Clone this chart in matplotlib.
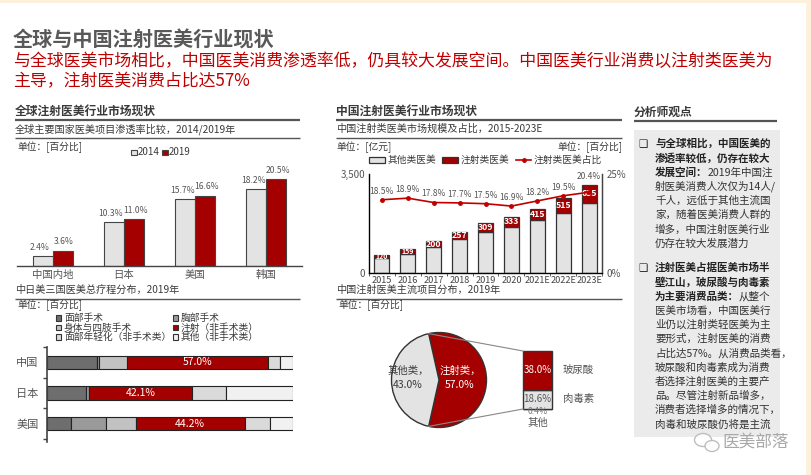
import numpy as np
import matplotlib
matplotlib.use('Agg')
import matplotlib.pyplot as plt
from matplotlib.patches import Rectangle, Ellipse

plt.rcParams['font.family'] = ['Noto Sans CJK SC', 'DejaVu Sans']

# ---------------- data ----------------
pen_cats = ['中国内地', '日本', '美国', '韩国']
pen_2014 = [2.4, 10.3, 15.7, 18.2]
pen_2019 = [3.6, 11.0, 16.6, 20.5]

dist_countries = ['中国', '日本', '美国']
dist_names = ['面部手术', '胸部手术', '身体与四肢手术', '注射（非手术类）', '面部年轻化（非手术类）', '其他（非手术类）']
face_surg = [20.5, 16.0, 9.6]
breast_surg = [0.8, 1.0, 14.5]
body_surg = [11.4, 0.0, 12.0]
injection = [57.0, 42.1, 44.2]
rejuvenation = [4.9, 13.5, 10.3]
other_nonsurg = [5.4, 27.4, 9.4]

years = ['2015', '2016', '2017', '2018', '2019', '2020', '2021E', '2022E', '2023E']
inj_market = [120, 159, 200, 257, 309, 333, 415, 515, 635]
other_market = [529, 682, 924, 1195, 1457, 1637, 1865, 2126, 2478]
inj_share = [18.5, 18.9, 17.8, 17.7, 17.5, 16.9, 18.2, 19.5, 20.4]

pie_labels = ['注射类', '其他类']
pie_values = [57.0, 43.0]
sub_labels = ['其他', '肉毒素', '玻尿酸']
sub_values = [0.4, 18.6, 38.0]

# ---------------- style ----------------
RED = '#a50000'
TRED = '#c00000'
DARK = '#3a3a3a'
LIGHT = '#e3e3e3'
CREAM = '#fdf1dc'
W, H = 811, 475

fig = plt.figure(figsize=(W / 100, H / 100), dpi=100)
fig.patch.set_facecolor('white')
ov = fig.add_axes([0, 0, 1, 1])
ov.set_xlim(0, W)
ov.set_ylim(H, 0)
ov.set_autoscale_on(False)
ov.axis('off')


def pax(l, t, r, b):
    ax = fig.add_axes([l / W, 1 - b / H, (r - l) / W, (b - t) / H])
    ax.patch.set_alpha(0)
    return ax


# borders
ov.add_patch(Rectangle((0, 0), W, 3, color=CREAM, lw=0))
ov.add_patch(Rectangle((806, 0), 5, H, color=CREAM, lw=0))

# titles
ov.text(13, 40, '全球与中国注射医美行业现状', fontsize=14.5, weight='bold', color='#595959', va='center')
ov.text(13, 61, '与全球医美市场相比，中国医美消费渗透率低，仍具较大发展空间。中国医美行业消费以注射类医美为',
        fontsize=12.2, color=TRED, va='center')
ov.text(13, 81, '主导，注射医美消费占比达57%', fontsize=12.2, color=TRED, va='center')


def heading(x0, x1, y, text, bold=True, lw=1.6, fs=8.5):
    ov.text(x0, y, text, fontsize=fs, weight='bold' if bold else 'normal', color=DARK, va='center')
    ov.plot([x0, x1], [y + 9, y + 9], color='#555555', lw=lw, solid_capstyle='butt')


heading(15, 300, 111, '全球注射医美行业市场现状')
heading(15, 300, 129, '全球主要国家医美项目渗透率比较，2014/2019年', bold=False, lw=1.0, fs=7.3)
ov.text(17, 147, '单位：[百分比]', fontsize=7, color=DARK, va='center')

heading(336, 622, 111, '中国注射医美行业市场现状')
heading(336, 622, 129, '中国注射类医美市场规模及占比，2015-2023E', bold=False, lw=1.0, fs=7.3)
ov.text(336, 147, '单位：[亿元]', fontsize=7, color=DARK, va='center')
ov.text(622, 147, '单位：[百分比]', fontsize=7, color=DARK, va='center', ha='right')

heading(15, 300, 290, '中日美三国医美总疗程分布，2019年', bold=False, lw=1.0, fs=7.3)
ov.text(17, 305, '单位：[百分比]', fontsize=7, color=DARK, va='center')
heading(336, 622, 290, '中国注射医美主流项目分布，2019年', bold=False, lw=1.0, fs=7.3)
ov.text(338, 305, '单位：[百分比]', fontsize=7, color=DARK, va='center')

heading(634, 777, 112, '分析师观点', lw=1.6, fs=8.5)

# ---------------- chart 1: penetration ----------------
ov.add_patch(Rectangle((131, 149.5), 5.5, 5.5, fc=LIGHT, ec='#444444', lw=0.8))
ov.text(137.5, 152, '2014', fontsize=7, color=DARK, va='center')
ov.add_patch(Rectangle((162, 149.5), 5.5, 5.5, fc=RED, ec='#444444', lw=0.8))
ov.text(168.5, 152, '2019', fontsize=7, color=DARK, va='center')

ax1 = pax(17, 160, 302, 266)
x = np.arange(len(pen_cats))
bw = 0.28
ax1.bar(x - bw / 2, pen_2014, bw, color=LIGHT, edgecolor='#444444', lw=0.8)
ax1.bar(x + bw / 2, pen_2019, bw, color=RED, edgecolor='#444444', lw=0.8)
for xi, v in zip(x, pen_2014):
    ax1.text(xi - bw / 2 - 0.04, v + 1.0, f'{v:.1f}%', ha='center', va='bottom', fontsize=6.2, color='#555555')
for xi, v in zip(x, pen_2019):
    ax1.text(xi + bw / 2 + 0.02, v + 1.0, f'{v:.1f}%', ha='center', va='bottom', fontsize=6.2, color='#555555')
ax1.set_xlim(-0.5, len(pen_cats) - 0.5)
ax1.set_ylim(0, 25)
for s in ['top', 'right', 'left']:
    ax1.spines[s].set_visible(False)
ax1.spines['bottom'].set_color('#444444')
ax1.spines['bottom'].set_linewidth(1.0)
ax1.set_yticks([])
ax1.set_xticks(x)
ax1.set_xticklabels(pen_cats, fontsize=7.5, color='#555555')
ax1.tick_params(axis='x', length=0, pad=3)

# ---------------- chart 2: treatment distribution ----------------
seg_colors = ['#6e6e6e', '#9a9a9a', '#c2c2c2', RED, '#dadada', '#f1f1f1']
leg_pos = [(58, 318), (175, 318), (58, 327.5), (175, 327.5), (58, 337), (175, 337)]
for (lx, ly), nm, c in zip(leg_pos, dist_names, seg_colors):
    ov.add_patch(Rectangle((lx - 2.5, ly - 2.8), 5.5, 5.5, fc=c, ec='#333333', lw=0.8))
    ov.text(lx + 6, ly, nm, fontsize=7, color=DARK, va='center')

ax2 = pax(47, 347, 293, 442)
series = [face_surg, breast_surg, body_surg, injection, rejuvenation, other_nonsurg]
yy = np.arange(len(dist_countries))
left = np.zeros(len(dist_countries))
for vals, c in zip(series, seg_colors):
    vals = np.array(vals)
    ax2.barh(yy, vals, 0.43, left=left, color=c, edgecolor='#222222', lw=0.8)
    left += vals
for yi, l0, v in zip(yy, np.array(face_surg) + np.array(breast_surg) + np.array(body_surg), injection):
    ax2.text(l0 + v / 2, yi, f'{v:.1f}%', ha='center', va='center', fontsize=7.5, color='white')
ax2.set_xlim(0, 100)
ax2.set_ylim(2.6, -0.5)
for s in ['top', 'right', 'bottom']:
    ax2.spines[s].set_visible(False)
ax2.spines['left'].set_color('#444444')
ax2.spines['left'].set_linewidth(1.2)
ax2.set_xticks([])
ax2.set_yticks(yy)
ax2.set_yticklabels(dist_countries, fontsize=8, color='#555555')
ax2.set_yticks(np.arange(-0.5, len(dist_countries)), minor=True)
ax2.tick_params(axis='y', which='major', length=0, pad=6)
ax2.tick_params(axis='y', which='minor', length=3, width=1, color='#444444', direction='out')

# ---------------- chart 3: market size ----------------
ov.add_patch(Rectangle((369, 157), 16, 6, fc=LIGHT, ec='#333333', lw=0.9))
ov.text(388, 160, '其他类医美', fontsize=7, color=DARK, va='center')
ov.add_patch(Rectangle((442, 157), 16, 6, fc=RED, ec='#333333', lw=0.9))
ov.text(461, 160, '注射类医美', fontsize=7, color=DARK, va='center')
ov.plot([516, 531], [160, 160], color=TRED, lw=1.2)
ov.plot([523.5], [160], marker='o', ms=2.5, color=TRED)
ov.text(534, 160, '注射类医美占比', fontsize=7, color=DARK, va='center')

ax3 = pax(369, 174, 602, 273)
xb = np.arange(len(years))
bw3 = 0.58
other_arr = np.array(other_market)
inj_arr = np.array(inj_market)
ax3.bar(xb, other_arr, bw3, color=LIGHT, edgecolor='#333333', lw=0.9)
ax3.bar(xb, inj_arr, bw3, bottom=other_arr, color=RED, edgecolor='#333333', lw=0.9)
for xi, o, v in zip(xb, other_arr, inj_arr):
    ax3.text(xi, o + v / 2, f'{v}', ha='center', va='center', fontsize=6.3 if v > 180 else 5,
             color='white', weight='bold')
ax3.set_xlim(-0.5, len(years) - 0.5)
ax3.set_ylim(0, 3500)
ax3.set_yticks([0, 3500])
ax3.set_yticklabels(['0', '3,500'], fontsize=7, color='#555555')
ax3.set_xticks(xb)
ax3.set_xticklabels(years, fontsize=6.6, color='#444444')
ax3.set_xticks(np.arange(-0.5, len(years)), minor=True)
ax3.tick_params(axis='x', which='major', length=0, pad=2)
ax3.tick_params(axis='x', which='minor', length=2.5, color='#444444')
ax3.tick_params(axis='y', length=0, pad=3)
ax3.spines['top'].set_visible(False)
for s in ['left', 'right', 'bottom']:
    ax3.spines[s].set_color('#444444')
    ax3.spines[s].set_linewidth(1.0)

ax3r = ax3.twinx()
ax3r.patch.set_alpha(0)
ax3r.set_ylim(0, 25)
ax3r.plot(xb, inj_share, color=TRED, lw=1.2, marker='o', ms=2.5)
ax3r.set_yticks([0, 25])
ax3r.set_yticklabels(['0%', '25%'], fontsize=7, color='#555555')
ax3r.tick_params(axis='y', length=0, pad=3)
ax3r.spines['top'].set_visible(False)
ax3r.spines['right'].set_color('#444444')
total_in_share = (other_arr + inj_arr) / 3500 * 25
for xi, s, t in zip(xb, inj_share, total_in_share):
    anchor = max(s, t)
    ax3r.annotate(f'{s:.1f}%', (xi, anchor), xytext=(0, 3), textcoords='offset points',
                  ha='center', va='bottom', fontsize=6.1, color='#555555')

# ---------------- chart 4: pie + bar ----------------
ax4 = pax(380, 320, 600, 450)
cx, cy, r = 439, 95, 47.5
start = 360 * pie_values[0] / 100 / 2  # red wedge centred on the right side
ax4.pie(pie_values, colors=[RED, LIGHT], startangle=start, counterclock=False,
        center=(cx, cy), radius=r, wedgeprops=dict(edgecolor='#333333', lw=1.0))
ax4.set_xlim(380, 600)
ax4.set_ylim(25, 155)
ax4.set_aspect('equal')
ax4.axis('off')
ax4.text(cx - 31, cy + 2, f'{pie_labels[1]}，\n{pie_values[1]:.1f}%', ha='center', va='center',
         fontsize=7.5, color=DARK, linespacing=1.5)
ax4.text(cx + 21, cy + 2, f'{pie_labels[0]}，\n{pie_values[0]:.1f}%', ha='center', va='center',
         fontsize=7.5, color='white', linespacing=1.5)

bar_x, bar_w, bar_bottom, bar_h = 537.5, 29, 66, 58
scale = bar_h / sum(sub_values)
sub_colors = [LIGHT, LIGHT, RED]
b = bar_bottom
seg_mid = []
for v, c in zip(sub_values, sub_colors):
    ax4.bar(bar_x, v * scale, bar_w, bottom=b, color=c, edgecolor='#333333', lw=1.0)
    seg_mid.append(b + v * scale / 2)
    b += v * scale
bar_top = b
a1 = np.deg2rad(start)
a2 = np.deg2rad(start - 360 * pie_values[0] / 100)
ax4.plot([cx + r * np.cos(a1), bar_x - bar_w / 2], [cy + r * np.sin(a1), bar_top], color='#888888', lw=0.8)
ax4.plot([cx + r * np.cos(a2), bar_x - bar_w / 2], [cy + r * np.sin(a2), bar_bottom], color='#888888', lw=0.8)
ax4.text(bar_x, seg_mid[2], f'{sub_values[2]:.1f}%', ha='center', va='center', fontsize=7, color='white')
ax4.text(bar_x, seg_mid[1], f'{sub_values[1]:.1f}%', ha='center', va='center', fontsize=7, color='#555555')
ax4.text(bar_x, bar_bottom - 3, f'{sub_values[0]:.1f}%', ha='center', va='center', fontsize=6.3, color='#777777')
ax4.text(bar_x, bar_bottom - 14, sub_labels[0], ha='center', va='center', fontsize=7.5, color='#555555')
ax4.text(bar_x + bar_w / 2 + 11, seg_mid[2], sub_labels[2], ha='left', va='center', fontsize=7.5, color='#555555')
ax4.text(bar_x + bar_w / 2 + 11, seg_mid[1], sub_labels[1], ha='left', va='center', fontsize=7.5, color='#555555')

# ---------------- analyst box ----------------
ov.add_patch(Rectangle((634, 130), 146, 307, fc='#ebebeb', ec='none'))
bullet1 = [("与全球相比，中国医美的", ""), ("渗透率较低，仍存在较大", ""), ("发展空间：", "2019年中国注"),
           ("", "射医美消费人次仅为14人/"), ("", "千人，远低于其他主流国"), ("", "家，随着医美消费人群的"),
           ("", "增多，中国注射医美行业"), ("", "仍存在较大发展潜力")]
bullet2 = [("注射医美占据医美市场半", ""), ("壁江山，玻尿酸与肉毒素", ""), ("为主要消费品类：", "从整个"),
           ("", "医美市场看，中国医美行"), ("", "业仍以注射类轻医美为主"), ("", "要形式，注射医美的消费"),
           ("", "占比达57%。从消费品类看，"), ("", "玻尿酸和肉毒素成为消费"), ("", "者选择注射医美的主要产"),
           ("", "品。尽管注射新品增多，"), ("", "消费者选择增多的情况下，"), ("", "肉毒和玻尿酸仍将是主流")]
renderer = fig.canvas.get_renderer()
FS = 7.6
LS = 14.2


def write_bullet(lines, y0):
    ov.text(643, y0, '❑', fontsize=7.5, color='#222222', va='center', ha='center', family=['DejaVu Sans'])
    for i, (bpart, npart) in enumerate(lines):
        y = y0 + i * LS
        xpos = 655
        if bpart:
            t = ov.text(xpos, y, bpart, fontsize=FS, weight='bold', color='#222222', va='center')
            bb = t.get_window_extent(renderer)
            xpos = bb.x1
        if npart:
            ov.text(xpos, y, npart, fontsize=FS, color='#333333', va='center')


write_bullet(bullet1, 144)
write_bullet(bullet2, 268)

# watermark
ov.add_patch(Ellipse((703, 440), 17, 13, fc='white', ec='#b8b8b8', lw=1.0, alpha=0.9))
ov.add_patch(Ellipse((712, 446), 14, 11, fc='white', ec='#b8b8b8', lw=1.0, alpha=0.9))
ov.text(722, 442, '医美部落', fontsize=12, color='#a8a8a8', va='center')

fig.savefig('out.png', dpi=100, facecolor='white')
